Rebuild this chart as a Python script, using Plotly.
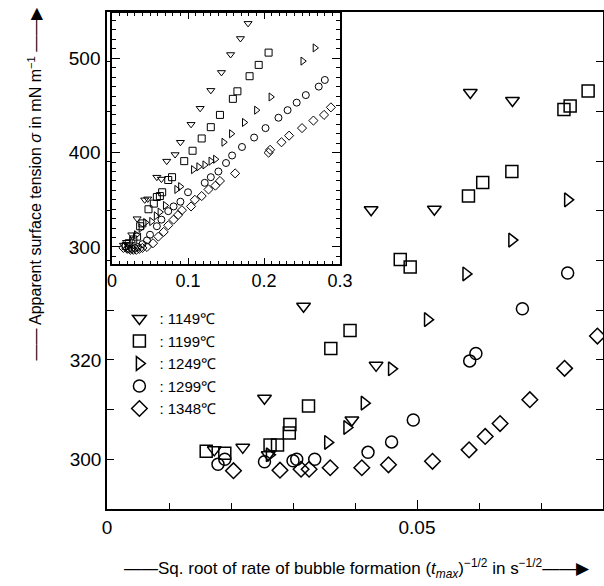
import plotly.graph_objects as go

# ---------------- data (main plot) ----------------
legend_names = [": 1149℃", ": 1199℃", ": 1249℃", ": 1299℃", ": 1348℃"]
symbols = ["triangle-down-open", "square-open", "triangle-right-open", "circle-open", "diamond-open"]

main_x_1149 = [0.0173, 0.0219, 0.0260, 0.0254, 0.0317, 0.0395, 0.0434, 0.0426, 0.0528, 0.0586, 0.0654]
main_y_1149 = [301.9, 302.4, 300.9, 312.3, 330.8, 307.9, 318.9, 350.2, 350.3, 373.8, 372.2]

main_x_1199 = [0.0160, 0.0190, 0.0263, 0.0275, 0.0294, 0.0295, 0.0325, 0.0361, 0.0392, 0.0473, 0.0489,
               0.0583, 0.0606, 0.0653, 0.0737, 0.0747, 0.0776]
main_y_1199 = [301.6, 301.2, 302.9, 302.9, 305.3, 307.0, 310.7, 322.3, 325.9, 340.2, 338.7,
               353.0, 355.7, 357.9, 370.4, 371.1, 374.1]

main_x_1249 = [0.0262, 0.0356, 0.0387, 0.0415, 0.0459, 0.0517, 0.0579, 0.0653, 0.0743]
main_y_1249 = [300.9, 303.4, 306.4, 311.3, 318.2, 328.1, 337.3, 344.1, 352.2]

main_x_1299 = [0.0179, 0.0190, 0.0254, 0.0300, 0.0306, 0.0335, 0.0421, 0.0459, 0.0494, 0.0585, 0.0595,
               0.0670, 0.0743]
main_y_1299 = [299.0, 300.0, 299.5, 299.7, 300.0, 300.0, 301.4, 303.5, 307.9, 319.8, 321.3,
               330.3, 337.5]

main_x_1348 = [0.0204, 0.0279, 0.0313, 0.0326, 0.0360, 0.0411, 0.0454, 0.0525, 0.0584, 0.0610, 0.0634,
               0.0682, 0.0738, 0.0791]
main_y_1348 = [297.7, 297.8, 298.0, 298.0, 298.3, 298.3, 298.9, 299.6, 301.9, 304.6, 307.2,
               312.0, 318.3, 324.8]

# ---------------- data (inset) ----------------
ins_x_1149 = [0.015, 0.019, 0.026, 0.033, 0.043, 0.047, 0.059, 0.065, 0.072, 0.083, 0.090, 0.104,
              0.116, 0.130, 0.144, 0.156, 0.169, 0.179]
ins_y_1149 = [302, 305, 313, 330, 350, 351, 374, 372, 391, 398, 411, 430,
              447, 466, 485, 504, 521, 537]

ins_x_1199 = [0.018, 0.022, 0.028, 0.033, 0.037, 0.040, 0.048, 0.055, 0.059, 0.063, 0.066, 0.074,
              0.079, 0.095, 0.106, 0.118, 0.130, 0.142, 0.159, 0.165, 0.181, 0.193, 0.206]
ins_y_1199 = [301, 304, 308, 311, 322, 325, 340, 346, 353, 354, 358, 371,
              374, 391, 402, 415, 427, 440, 457, 465, 481, 493, 506]

ins_x_1249 = [0.020, 0.026, 0.032, 0.038, 0.044, 0.052, 0.058, 0.063, 0.070, 0.085, 0.090, 0.107,
              0.114, 0.122, 0.130, 0.136, 0.147, 0.157, 0.174, 0.190, 0.209, 0.251, 0.267]
ins_y_1249 = [300, 306, 313, 320, 326, 327, 333, 337, 344, 361, 364, 382,
              385, 387, 391, 393, 411, 420, 432, 445, 459, 497, 511]

ins_x_1299 = [0.022, 0.026, 0.030, 0.034, 0.040, 0.046, 0.050, 0.059, 0.065, 0.074, 0.081, 0.090,
              0.100, 0.122, 0.130, 0.140, 0.150, 0.158, 0.171, 0.187, 0.202, 0.219, 0.231, 0.243,
              0.255, 0.272, 0.280]
ins_y_1299 = [298, 298, 299, 300, 303, 307, 313, 322, 329, 338, 343, 348,
              358, 368, 374, 380, 389, 397, 406, 416, 426, 437, 445, 453,
              461, 470, 477]

ins_x_1348 = [0.015, 0.020, 0.024, 0.028, 0.032, 0.036, 0.040, 0.046, 0.054, 0.061, 0.068, 0.074,
              0.081, 0.087, 0.092, 0.104, 0.109, 0.118, 0.127, 0.136, 0.142, 0.162, 0.206, 0.208,
              0.223, 0.233, 0.250, 0.265, 0.279, 0.288]
ins_y_1348 = [299, 298, 297, 297, 297, 298, 299, 300, 304, 311, 316, 323,
              329, 334, 339, 343, 350, 354, 361, 365, 370, 378, 400, 403,
              411, 418, 426, 434, 440, 448]

main_x = [main_x_1149, main_x_1199, main_x_1249, main_x_1299, main_x_1348]
main_y = [main_y_1149, main_y_1199, main_y_1249, main_y_1299, main_y_1348]
ins_x = [ins_x_1149, ins_x_1199, ins_x_1249, ins_x_1299, ins_x_1348]
ins_y = [ins_y_1149, ins_y_1199, ins_y_1249, ins_y_1299, ins_y_1348]

main_xticks = [0, 0.05]
main_xticktext = ["0", "0.05"]
main_yticks = [300, 320]
main_yticktext = ["300", "320"]
inset_xticks = [0, 0.1, 0.2, 0.3]
inset_xticktext = ["0", "0.1", "0.2", "0.3"]
inset_yticks = [300, 400, 500]

FONT = "Liberation Sans, Arial, sans-serif"

fig = go.Figure()
for i in range(5):
    fig.add_trace(go.Scatter(
        x=main_x[i], y=main_y[i], mode="markers", name=legend_names[i],
        marker=dict(symbol=symbols[i], size=12, color="black", line=dict(width=1.5, color="black")),
        xaxis="x", yaxis="y", cliponaxis=False))
for i in range(5):
    fig.add_trace(go.Scatter(
        x=ins_x[i], y=ins_y[i], mode="markers", showlegend=False,
        marker=dict(symbol=symbols[i], size=7, color="black", line=dict(width=1, color="black")),
        xaxis="x2", yaxis="y2"))

axis_common = dict(showline=True, linecolor="black", linewidth=1.5, showgrid=False, zeroline=False,
                   ticks="inside", tickcolor="black", tickwidth=1.2, automargin=False)

fig.update_layout(
    width=604, height=586, autosize=False,
    margin=dict(l=107, r=1, t=12, b=77, autoexpand=False),
    paper_bgcolor="white", plot_bgcolor="white",
    font=dict(family=FONT, color="black"),
    showlegend=True,
    legend=dict(x=0.025, y=0.416, xanchor="left", yanchor="top", bgcolor="rgba(0,0,0,0)",
                font=dict(size=15, family=FONT), tracegroupgap=0, itemwidth=30),
    xaxis=dict(domain=[0, 1], range=[0, 0.08], tickmode="array", tickvals=main_xticks,
               ticktext=main_xticktext, ticklen=9, mirror=True, tickfont=dict(size=19),
               minor=dict(dtick=0.01, tick0=0, ticklen=6, ticks="inside", tickcolor="black"),
               anchor="y", **axis_common),
    yaxis=dict(domain=[0, 1], range=[290, 390], tickmode="array", tickvals=main_yticks,
               ticktext=main_yticktext, ticklen=7, mirror="allticks", tickfont=dict(size=19),
               minor=dict(dtick=10, tick0=300, ticklen=7, ticks="inside", tickcolor="black"),
               anchor="x", **axis_common),
    xaxis2=dict(domain=[0.0101, 0.4698], range=[0, 0.3], tickmode="array", tickvals=inset_xticks,
                ticktext=inset_xticktext, ticklen=6, mirror="allticks", tickfont=dict(size=18),
                minor=dict(dtick=0.01, tick0=0, ticklen=3, ticks="inside", tickcolor="black"),
                anchor="y2", **axis_common),
    yaxis2=dict(domain=[0.493, 0.998], range=[282, 548], tickmode="array", tickvals=inset_yticks,
                ticklen=8, mirror="allticks", tickfont=dict(size=19), ticklabelstandoff=6,
                minor=dict(dtick=10, tick0=300, ticklen=4, ticks="inside", tickcolor="black"),
                anchor="x2", **axis_common),
    annotations=[
        dict(text="——Sq. root of rate of bubble formation (<i>t<sub>max</sub></i>)<sup>−1/2</sup> in s<sup>−1/2</sup>——▶",
             xref="paper", yref="paper", x=0.505, y=-0.119, xanchor="center", yanchor="middle",
             showarrow=False, font=dict(size=17, family=FONT)),
        dict(text="—— Apparent surface tension <i>σ</i> in mN m<sup>−1</sup> ——▶",
             xref="paper", yref="paper", x=-0.145, y=0.655, xanchor="center", yanchor="middle",
             textangle=-90, showarrow=False, font=dict(size=16, family=FONT)),
    ],
)

fig.write_html("out.html", config={"displayModeBar": False, "responsive": False},
               post_script="document.documentElement.style.overflow='hidden';document.body.style.margin='0';document.body.style.overflow='hidden';")
